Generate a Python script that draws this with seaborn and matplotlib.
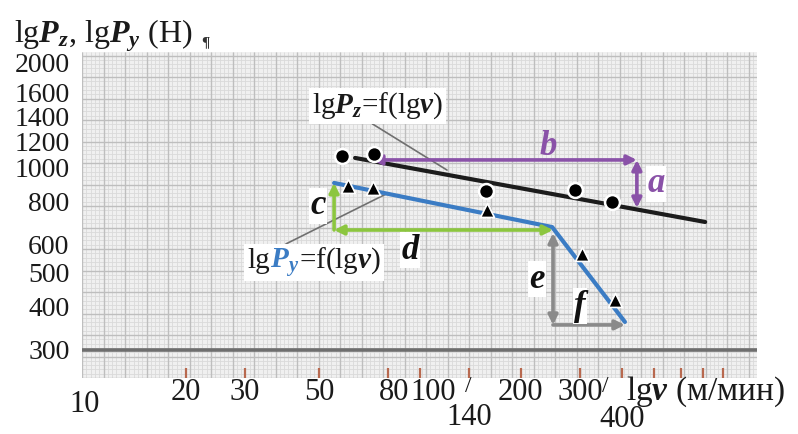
import numpy as np
import pandas as pd
import matplotlib
matplotlib.use("Agg")
import matplotlib.pyplot as plt
import seaborn as sns
from matplotlib.ticker import FixedLocator, NullLocator, NullFormatter
from matplotlib.transforms import offset_copy, IdentityTransform, ScaledTranslation
from matplotlib.patches import Rectangle

sns.set_theme(style="white")
plt.rcParams['font.family'] = ['Liberation Serif', 'DejaVu Serif']
plt.rcParams['mathtext.fontset'] = 'custom'
plt.rcParams['mathtext.rm'] = 'Liberation Serif'
plt.rcParams['mathtext.it'] = 'Liberation Serif:italic'
plt.rcParams['mathtext.bf'] = 'Liberation Serif:bold'
plt.rcParams['mathtext.bfit'] = 'Liberation Serif:italic:bold'

# ---------------- data ----------------
v_pz = [58.5, 72.9, 157, 290, 374]          # cutting speed, m/min
pz = [1079, 1093, 857, 862, 796]            # Pz, N
v_py = [61, 72.5, 158, 305, 382]
py = [885, 873, 755, 565, 417]              # Py, N
fit_pz_v = [64, 710]
fit_pz = [1065, 698]
fit_py_v = [55.4, 248, 409]
fit_py = [903, 675, 361]
y_ticks = [300, 400, 500, 600, 800, 1000, 1200, 1400, 1600, 2000]
x_ticks = [10, 20, 30, 50, 80, 100, 140, 200, 300, 400]
x_marks = [20, 30, 50, 80, 100, 140, 200, 300, 400]
x_marks_minor = [500, 600, 700, 800]

df_pz = pd.DataFrame({"v": v_pz, "P": pz})
df_py = pd.DataFrame({"v": v_py, "P": py})
df_fz = pd.DataFrame({"v": fit_pz_v, "P": fit_pz})
df_fy = pd.DataFrame({"v": fit_py_v, "P": fit_py})

PURPLE = '#8a52a8'
GREEN = '#8cc63f'
BLUE = '#3b7cc4'
GRAY = '#8a8a8a'
INK = '#1a1a1a'

fig = plt.figure(figsize=(7.98, 4.34), dpi=100)
fig.patch.set_facecolor('white')

L, B, W, H = 82 / 798, 1 - 378 / 434, 675 / 798, 326 / 434

# graph-paper background
bg = fig.add_axes([L, B, W, H], zorder=0)
bg.set_xlim(0, 675)
bg.set_ylim(0, 326)
bg.set_facecolor('#f0f0f0')
fine = np.arange(0, 676, 4.3)
fine_h = np.arange(0, 327, 4.3)
bg.vlines(fine, 0, 326, color='#dadada', lw=0.6)
bg.hlines(fine_h, 0, 675, color='#dadada', lw=0.6)
bg.vlines(np.arange(0, 676, 21.5), 0, 326, color='#bebebe', lw=1.0)
bg.hlines(np.arange(0, 327, 21.5), 0, 675, color='#bebebe', lw=1.0)
bg.set_xticks([])
bg.set_yticks([])
for s in bg.spines.values():
    s.set_visible(False)

# main log-log axes
ax = fig.add_axes([L, B, W, H], zorder=1)
ax.set_facecolor('none')
ax.set_xscale('log')
ax.set_yscale('log')
ax.set_xlim(9.796, 1013.8)
ax.set_ylim(249.4, 2142)
for s in ax.spines.values():
    s.set_visible(False)

ax.axhline(300, color='#6e6e6e', lw=2.6, zorder=1)

sns.lineplot(data=df_fz, x="v", y="P", sort=False, color='#1c1c1c', lw=3, ax=ax, zorder=3)
sns.lineplot(data=df_fy, x="v", y="P", sort=False, color=BLUE, lw=3, ax=ax, zorder=3)
sns.scatterplot(data=df_pz, x="v", y="P", marker='o', s=115, color='black',
                edgecolor='white', linewidth=1.8, ax=ax, zorder=5)
sns.scatterplot(data=df_py, x="v", y="P", marker='^', s=100, color='black',
                edgecolor='white', linewidth=1.2, ax=ax, zorder=5)
ax.set_xlabel('')
ax.set_ylabel('')

# ticks
ax.yaxis.set_major_locator(FixedLocator(y_ticks))
ax.yaxis.set_minor_locator(NullLocator())
ax.set_yticklabels([str(t) for t in y_ticks], fontsize=20, color=INK)
ax.tick_params(axis='y', length=0, pad=9)
ax.xaxis.set_major_locator(FixedLocator(x_marks))
ax.xaxis.set_minor_locator(FixedLocator(x_marks_minor))
ax.xaxis.set_minor_formatter(NullFormatter())
ax.tick_params(axis='x', which='both', direction='in', length=7, width=1.6,
               color='#b8694f', bottom=True, labelbottom=False)
# nudge crowded labels apart a little (they sit close in the original as well)
nudge = {1600: 4, 1200: -2}
for val, tk in zip(y_ticks, ax.yaxis.get_major_ticks()):
    if val in nudge:
        tk.label1.set_transform(tk.label1.get_transform() +
                                ScaledTranslation(0, nudge[val] / 100, fig.dpi_scale_trans))

xt = ax.get_xaxis_transform()
lowered = {10: -0.08, 140: -0.12, 400: -0.128}
align = {80: ('right', 22), 100: ('left', -10)}
for v in x_ticks:
    ha, dpx = align.get(v, ('center', 0))
    ax.text(v, lowered.get(v, -0.043), str(v), ha=ha, va='center', fontsize=22, color=INK,
            transform=offset_copy(xt, fig=fig, x=dpx, y=0, units='dots'))
ax.text(139, -0.026, '/', transform=xt, ha='center', va='center', fontsize=17, color=INK)
ax.text(357, -0.026, '/', transform=xt, ha='center', va='center', fontsize=17, color=INK)
ax.text(412, -0.043, r"lg$\mathbfit{v}$ (м/мин)", transform=xt, ha='left', va='center',
        fontsize=24, color=INK)

# axis title
fig.text(14 / 798, 1 - 43 / 434, r"lg$\mathbfit{P}_{\mathbfit{z}}$, lg$\mathbfit{P}_{\mathbfit{y}}$ (H)",
         fontsize=23, va='baseline', ha='left', color=INK)
fig.text(201 / 798, 1 - 46 / 434, '¶', fontsize=11, fontweight='bold', va='baseline', ha='left',
         color='#333333')

# arrows
def arr(p0, p1, color, style):
    ax.annotate('', xy=p1, xytext=p0,
                arrowprops=dict(arrowstyle=style, color=color, lw=2.6, shrinkA=0, shrinkB=0,
                                mutation_scale=14), zorder=4)

arr((71.9, 1051), (444, 1051), PURPLE, '<|-|>')      # b
arr((444, 1051), (444, 766), PURPLE, '<|-|>')        # a
arr((55.4, 662), (55.4, 903), GREEN, '-|>')          # c
arr((249.5, 662), (55.4, 662), GREEN, '<|-|>')       # d
arr((249.5, 649), (249.5, 354), GRAY, '<|-|>')       # e
arr((249.5, 354), (409, 354), GRAY, '-|>')           # f

# leader lines
ax.plot([72.1, 120.4], [1333, 983], color='#707070', lw=1.2, zorder=2)
ax.plot([39.8, 80.3], [604, 845], color='#707070', lw=1.2, zorder=2)

# curve labels
ax.text(74.9, 1500, r"lg$\mathbfit{P}_{\mathbfit{z}}$=f(lg$\mathbfit{v}$)", ha='center', va='center',
        fontsize=21, color=INK, zorder=6,
        bbox=dict(fc='white', ec='none', pad=2))

renderer = fig.canvas.get_renderer()
bx, by = 30.5, 515
parts = [("lg", INK), (r"$\mathbfit{P}_{\mathbfit{y}}$", BLUE), (r"=f(lg$\mathbfit{v}$)", INK)]
dx = 0.0
exts = []
for s, c in parts:
    t = ax.text(bx, by, s, ha='left', va='baseline', fontsize=21, color=c, zorder=7,
                transform=offset_copy(ax.transData, fig=fig, x=dx, y=0, units='dots'))
    e = t.get_window_extent(renderer)
    exts.append(e)
    dx += e.width
x0 = min(e.x0 for e in exts) - 3
x1 = max(e.x1 for e in exts) + 3
y0 = min(e.y0 for e in exts) - 2
y1 = max(e.y1 for e in exts) + 2
ax.add_artist(Rectangle((x0, y0), x1 - x0, y1 - y0, transform=IdentityTransform(),
                        fc='white', ec='none', zorder=6, clip_on=False))

# letter labels
def letter(x, y, s, color, box=True):
    kw = dict(bbox=dict(fc='white', ec='none', pad=1)) if box else {}
    ax.text(x, y, s, ha='center', va='center', fontsize=25, fontstyle='italic',
            fontweight='bold', color=color, zorder=6, **kw)

letter(241, 1150, 'b', PURPLE, box=False)
letter(506, 897, 'a', PURPLE)
letter(49.6, 776, 'c', '#111111')
letter(93.3, 580, 'd', '#111111')
letter(223, 479, 'e', '#111111')
letter(300, 401, 'f', '#111111')

fig.savefig('out.png', dpi=100)
